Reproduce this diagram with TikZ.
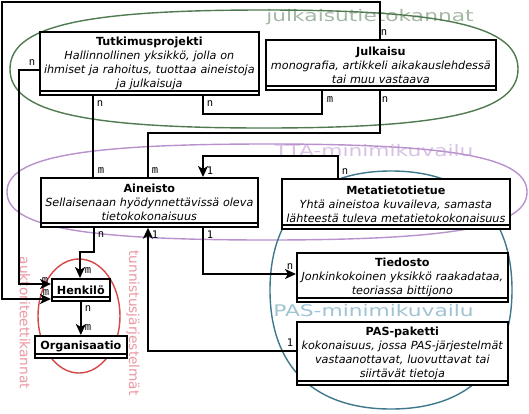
\documentclass[tikz,border=0pt]{standalone}
\usepackage{fontspec}
\setmainfont{DejaVu Sans}
\setmonofont{DejaVu Sans Mono}
\usetikzlibrary{arrows.meta,calc}
\definecolor{grn}{RGB}{80,122,80}
\definecolor{grnlab}{RGB}{165,184,165}
\definecolor{pur}{RGB}{185,145,205}
\definecolor{purlab}{RGB}{218,194,230}
\definecolor{teal2}{RGB}{62,120,140}
\definecolor{teallab}{RGB}{160,196,212}
\definecolor{redd}{RGB}{212,72,72}
\definecolor{pinklab}{RGB}{234,152,162}
% rounded ellipse: [style]{cx}{cy}{rx}{ry}{k}
\newcommand\myell[6][]{%
  \draw[#1] (#2-#4,#3) .. controls (#2-#4,#3-#6*#5) and (#2-#6*#4,#3-#5) .. (#2,#3-#5)
  .. controls (#2+#6*#4,#3-#5) and (#2+#4,#3-#6*#5) .. (#2+#4,#3)
  .. controls (#2+#4,#3+#6*#5) and (#2+#6*#4,#3+#5) .. (#2,#3+#5)
  .. controls (#2-#6*#4,#3+#5) and (#2-#4,#3+#6*#5) .. (#2-#4,#3) -- cycle;}
\begin{document}
\begin{tikzpicture}[x=1pt,y=-1pt,
  umlbox/.style={draw, line width=1.7pt, fill=white, inner sep=0pt, anchor=north west,
    align=center, font=\fontsize{11.2}{14}\selectfont,
    path picture={\draw[line width=1.3pt] ([yshift=4pt]path picture bounding box.south west) -- ([yshift=4pt]path picture bounding box.south east);}},
  conn/.style={line width=1.8pt},
  arr/.style={conn, -{Stealth[length=11pt,width=10pt,inset=3pt]}},
  lab/.style={font=\ttfamily\fontsize{10.5}{10.5}\selectfont, inner sep=0pt},
  biglab/.style={font=\fontsize{16}{16}\selectfont, inner sep=0pt, anchor=base, xscale=1.36},
  vlab/.style={font=\fontsize{13.7}{14}\selectfont, inner sep=0pt, rotate=-90, text=pinklab},
  ell/.style={line width=1.4pt}
]
\fill[white] (0,0) rectangle (529,413);
\useasboundingbox (0,0) rectangle (529,413);

% region labels
\node[biglab, text=grnlab] (ljulk) at (370,21) {julkaisutietokannat};
\node[biglab, text=purlab] (ltta) at (374,156) {TTA-minimikuvailu};
\node[biglab, text=teallab] (lpas) at (373.5,316) {PAS-minimikuvailu};
\node[vlab] (lauk) at (25,323) {auktoriteettikannat};
\node[vlab] (ltun) at (133,323) {tunnistusjärjestelmät};

% regions
\myell[ell, grn]{264}{69}{254}{59}{0.72}
\myell[ell, pur]{267}{192}{260}{48}{0.72}
\myell[ell, teal2]{391}{290}{121}{119}{0.64}
\myell[ell, redd]{79}{316}{41}{57}{0.5523}

% boxes
\node[umlbox, minimum width=219pt, minimum height=63pt, text width=215pt] (tp) at (39,31)
  {\textbf{Tutkimusprojekti}\\\textit{Hallinnollinen yksikkö, jolla on}\\\textit{ihmiset ja rahoitus, tuottaa aineistoja}\\\textit{ja julkaisuja}};
\node[umlbox, minimum width=230pt, minimum height=50pt, text width=226pt] (jul) at (265,39)
  {\textbf{Julkaisu}\\\textit{monografia, artikkeli aikakauslehdessä}\\\textit{tai muu vastaava}};
\node[umlbox, minimum width=217pt, minimum height=49pt, text width=213pt] (ain) at (40,177)
  {\textbf{Aineisto}\\\textit{Sellaisenaan hyödynnettävissä oleva}\\\textit{tietokokonaisuus}};
\node[umlbox, minimum width=228pt, minimum height=50pt, text width=224pt] (meta) at (281,178)
  {\textbf{Metatietotietue}\\\textit{Yhtä aineistoa kuvaileva, samasta}\\\textit{lähteestä tuleva metatietokokonaisuus}};
\node[umlbox, minimum width=211pt, minimum height=49pt, text width=207pt] (tie) at (296,252)
  {\textbf{Tiedosto}\\\textit{Jonkinkokoinen yksikkö raakadataa,}\\\textit{teoriassa bittijono}};
\node[umlbox, minimum width=211pt, minimum height=63pt, text width=207pt] (pas) at (296,321)
  {\textbf{PAS-paketti}\\\textit{kokonaisuus, jossa PAS-järjestelmät}\\\textit{vastaanottavat, luovuttavat tai}\\\textit{siirtävät tietoja}};
\node[umlbox, minimum width=58pt, minimum height=22pt, text width=56pt] (hen) at (51,278)
  {\textbf{Henkilö}};
\node[umlbox, minimum width=92pt, minimum height=22pt, text width=90pt] (org) at (34,335)
  {\textbf{Organisaatio}};

% bend points
\coordinate (c2a) at (19,70);
\coordinate (c2b) at (19,284);
\coordinate (c3a) at (380,2);
\coordinate (c3b) at (2,2);
\coordinate (c3c) at (2,299);
\coordinate (c4) at (93,0);
\coordinate (c5a) at (203,114);
\coordinate (c5b) at (322,114);
\coordinate (c6a) at (380,133);
\coordinate (c6b) at (148,133);
\coordinate (c7a) at (338,156);
\coordinate (c7b) at (203,156);
\coordinate (c8a) at (94,252);
\coordinate (c8b) at (80,252);
\coordinate (c9) at (148,351);
\coordinate (c10) at (203,274);

% connectors
\draw[arr] (tp.west |- c2a) -- (c2a) -- (c2b) -- (hen.west |- c2b);
\draw[arr] (jul.north -| c3a) -- (c3a) -- (c3b) -- (c3c) -- (hen.west |- c3c);
\draw[conn] (tp.south -| c4) -- (ain.north -| c4);
\draw[conn] (tp.south -| c5a) -- (c5a) -- (c5b) -- (jul.south -| c5b);
\draw[conn] (jul.south -| c6a) -- (c6a) -- (c6b) -- (ain.north -| c6b);
\draw[arr] (meta.north -| c7a) -- (c7a) -- (c7b) -- (ain.north -| c7b);
\draw[arr] (ain.south -| c8a) -- (c8a) -- (c8b) -- (hen.north -| c8b);
\draw[arr] (pas.west |- c9) -- (c9) -- (ain.south -| c9);
\draw[arr] (ain.south -| c10) -- (c10) -- (tie.west |- c10);
\draw[arr] (hen.south) -- (org.north);

% multiplicity labels
\node[lab] (m1) at (32,63) {n};
\node[lab] (m2) at (384,33) {n};
\node[lab] (m3) at (100,104) {n};
\node[lab] (m4) at (210,104) {n};
\node[lab] (m5) at (330,100) {m};
\node[lab] (m6) at (385,100) {n};
\node[lab] (m7) at (101,171) {m};
\node[lab] (m8) at (155,171) {m};
\node[lab] (m9) at (210,171) {1};
\node[lab] (m10) at (345,172) {n};
\node[lab] (m11) at (101,235) {n};
\node[lab] (m12) at (155,235) {1};
\node[lab] (m13) at (210,235) {1};
\node[lab] (m14) at (88,271) {m};
\node[lab] (m15) at (45,281) {m};
\node[lab] (m16) at (46,293) {m};
\node[lab] (m17) at (88,309) {n};
\node[lab] (m18) at (88,328) {m};
\node[lab] (m19) at (290,267) {n};
\node[lab] (m20) at (290,343) {1};
\end{tikzpicture}
\end{document}
